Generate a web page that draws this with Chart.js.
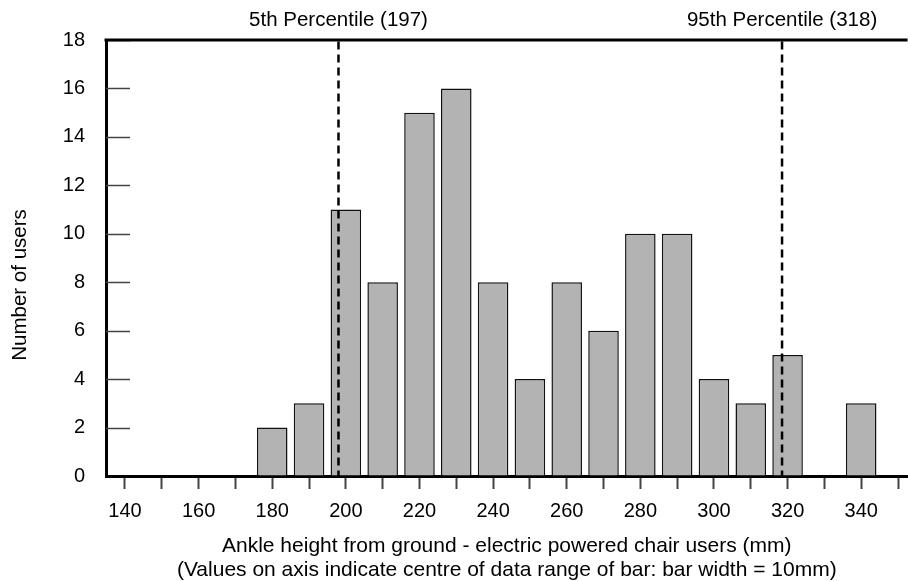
<!DOCTYPE html>
<html lang="en">
<head>
<meta charset="UTF-8">
<title>Ankle height - electric powered chair users</title>
<script src="https://cdn.jsdelivr.net/npm/chart.js"></script>
<style>
  html, body { margin: 0; padding: 0; background: #fff; }
  #wrap { width: 908px; height: 581px; }
</style>
</head>
<body>
<div id="wrap"><canvas id="ankleChart" width="908" height="581"></canvas></div>
<script>
    // bar centres (mm) and counts
    const heights = [140, 150, 160, 170, 180, 190, 200, 210, 220, 230, 240, 250, 260, 270, 280, 290, 300, 310, 320, 330, 340];
    const users   = [0, 0, 0, 0, 2, 3, 11, 8, 15, 16, 8, 4, 8, 6, 10, 10, 4, 3, 5, 0, 3];

    const xTickMarks  = [140, 150, 160, 170, 180, 190, 200, 210, 220, 230, 240, 250, 260, 270, 280, 290, 300, 310, 320, 330, 340, 350];
    const xTickLabels = [140, 160, 180, 200, 220, 240, 260, 280, 300, 320, 340];
    const yTicks      = [0, 2, 4, 6, 8, 10, 12, 14, 16, 18];

    const percentileNames     = ['5th Percentile (197)', '95th Percentile (318)'];
    const percentilePositions = [198, 318.5];

    const yTitle = 'Number of users';
    const xTitle = [
        'Ankle height from ground - electric powered chair users (mm)',
        '(Values on axis indicate centre of data range of bar: bar width = 10mm)'
    ];

    const FONT = 'Liberation Sans, Arial, Helvetica, sans-serif';

    const framePlugin = {
        id: 'frame',
        beforeDatasetsDraw(chart) {
            const ctx = chart.ctx;
            const area = chart.chartArea;
            const y = chart.scales.y;
            ctx.save();
            // short inward tick marks on the y axis
            ctx.strokeStyle = '#444';
            ctx.lineWidth = 1.5;
            yTicks.forEach(v => {
                if (v === 0) return;
                const py = Math.round(y.getPixelForValue(v)) + 0.5;
                ctx.beginPath();
                ctx.moveTo(area.left, py);
                ctx.lineTo(area.left + 24, py);
                ctx.stroke();
            });
            ctx.restore();
        },
        afterDatasetsDraw(chart) {
            const ctx = chart.ctx;
            const area = chart.chartArea;
            const x = chart.scales.x;
            ctx.save();

            // top frame line
            ctx.strokeStyle = '#000';
            ctx.lineWidth = 3;
            ctx.beginPath();
            ctx.moveTo(area.left - 1.5, area.top);
            ctx.lineTo(area.right, area.top);
            ctx.stroke();

            // percentile lines + labels
            percentilePositions.forEach((v, i) => {
                const px = x.getPixelForValue(v);
                ctx.setLineDash([8, 5]);
                ctx.lineWidth = 2.5;
                ctx.beginPath();
                ctx.moveTo(px, area.top + 1.5);
                ctx.lineTo(px, area.bottom);
                ctx.stroke();
                ctx.setLineDash([]);

                ctx.fillStyle = '#000';
                ctx.font = '20.5px ' + FONT;
                ctx.textAlign = 'center';
                ctx.textBaseline = 'middle';
                ctx.fillText(percentileNames[i], px, 20);
            });

            // y axis title
            ctx.translate(20, (area.top + area.bottom) / 2 + 27);
            ctx.rotate(-Math.PI / 2);
            ctx.font = '20.5px ' + FONT;
            ctx.textAlign = 'center';
            ctx.textBaseline = 'middle';
            ctx.fillText(yTitle, 0, 0);
            ctx.restore();
        }
    };

    new Chart(document.getElementById('ankleChart'), {
        type: 'bar',
        data: {
            datasets: [{
                data: heights.map((h, i) => ({ x: h, y: users[i] })),
                backgroundColor: '#b3b3b3',
                borderColor: '#111',
                borderWidth: 1.5,
                categoryPercentage: 1,
                barPercentage: 0.83
            }]
        },
        options: {
            responsive: false,
            animation: false,
            layout: { padding: { top: 40, right: 0, bottom: 0, left: 0 } },
            plugins: {
                legend: { display: false },
                tooltip: { enabled: false }
            },
            scales: {
                x: {
                    type: 'linear',
                    min: 134.84,
                    max: 352.6,
                    offset: false,
                    afterBuildTicks: s => { s.ticks = xTickMarks.map(v => ({ value: v })); },
                    afterFit: s => { s.height = 105; },
                    ticks: {
                        autoSkip: false,
                        maxRotation: 0,
                        padding: 10,
                        color: '#000',
                        font: { family: FONT, size: 20 },
                        callback: v => xTickLabels.includes(v) ? String(v) : ''
                    },
                    grid: {
                        offset: false,
                        drawOnChartArea: false,
                        drawTicks: true,
                        tickLength: 13,
                        tickWidth: 2,
                        tickColor: '#444'
                    },
                    border: { display: true, width: 3, color: '#000' },
                    title: {
                        display: true,
                        text: xTitle,
                        color: '#000',
                        font: { family: FONT, size: 21, lineHeight: 1.14 },
                        padding: { top: 10, bottom: -1 }
                    }
                },
                y: {
                    min: 0,
                    max: 18,
                    afterBuildTicks: s => { s.ticks = yTicks.map(v => ({ value: v })); },
                    afterFit: s => { s.width = 106; },
                    ticks: {
                        padding: 21,
                        color: '#000',
                        font: { family: FONT, size: 20 }
                    },
                    grid: { drawOnChartArea: false, drawTicks: false },
                    border: { display: true, width: 3, color: '#000' }
                }
            }
        },
        plugins: [framePlugin]
    });
</script>
</body>
</html>
